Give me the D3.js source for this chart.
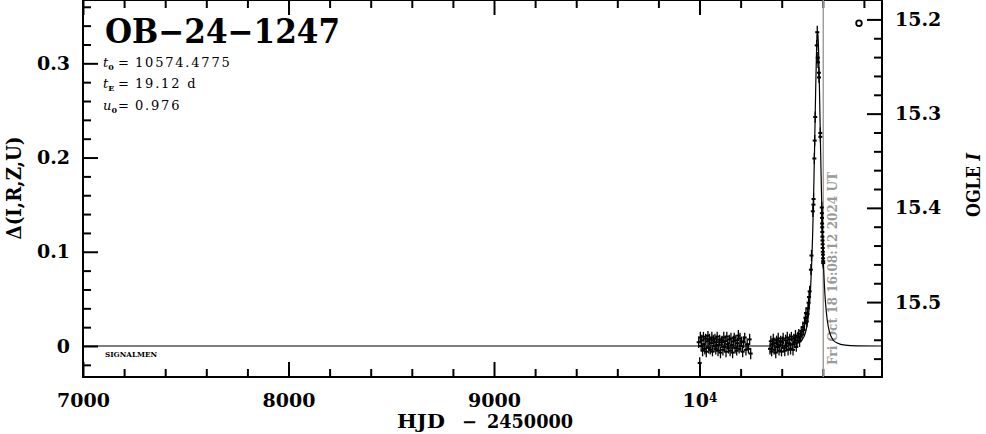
<!DOCTYPE html>
<html><head><meta charset="utf-8">
<script src="https://cdn.jsdelivr.net/npm/d3@7"></script>
<style>
html,body{margin:0;padding:0;background:#fff;}
svg{display:block;}
text{font-family:"DejaVu Serif",serif;}
</style></head><body>
<svg id="chart" width="986" height="434"></svg>
<script>
// ---------------- data ----------------
const eventName = "OB\u221224\u22121247";
const paramLines = [
  {sym: "t", sub: "0", val: "10574.4775"},
  {sym: "t", sub: "E", val: "19.12 d"},
  {sym: "u", sub: "0", val: "0.976"}
];
const baselineI = 15.5466;          // OGLE I at Δ = 0
const nowHJD = 10602.17;
const nowLabel = "Fri Oct 18 16:08:12 2024 UT";
const xMajorTicks = [7000, 8000, 9000, 10000];
const xMinorTicks = [7200, 7400, 7600, 7800, 8200, 8400, 8600, 8800, 9200, 9400, 9600, 9800, 10200, 10400, 10600, 10800];
const leftMajorTicks = [0, 0.1, 0.2, 0.3];
const leftMinorTicks = [-0.02, 0.02, 0.04, 0.06, 0.08, 0.12, 0.14, 0.16, 0.18, 0.22, 0.24, 0.26, 0.28, 0.32, 0.34, 0.36];
const rightMajorTicks = [15.2, 15.3, 15.4, 15.5];
const rightMinorTicks = [15.22, 15.24, 15.26, 15.28, 15.32, 15.34, 15.36, 15.38, 15.42, 15.44, 15.46, 15.48, 15.52, 15.54, 15.56];

// model light curve (HJD-2450000, Δmag)
const modelCurve = [
  [7000, 0], [10300, 0.0000], [10383.28, 0.0002], [10440.64, 0.0009], [10478.88, 0.0032],
  [10498.00, 0.0061], [10517.12, 0.0154], [10526.68, 0.0263], [10536.24, 0.0469],
  [10541.02, 0.0636], [10545.80, 0.0868], [10550.58, 0.1185], [10555.36, 0.1605],
  [10560.14, 0.2124], [10564.92, 0.2683], [10569.70, 0.3149], [10572.09, 0.3285],
  [10574.48, 0.3334], [10576.87, 0.3285], [10579.26, 0.3149], [10584.04, 0.2683],
  [10588.82, 0.2124], [10593.60, 0.1605], [10598.38, 0.1185], [10603.16, 0.0868],
  [10607.94, 0.0636], [10612.72, 0.0469], [10622.28, 0.0263], [10631.84, 0.0154],
  [10650.96, 0.0061], [10670.08, 0.0032], [10708.32, 0.0009], [10765.68, 0.0002],
  [10888, 0]
];

// observations [HJD-2450000, Δmag, σ]
const season2023 = [
  [9996,0.004,0.006],[10001,-0.018,0.006],[10004,0.009,0.006],[10008,0.000,0.005],[10011,0.006,0.006],
  [10015,-0.005,0.006],[10019,0.010,0.005],[10022,0.002,0.006],[10026,-0.003,0.006],[10030,0.008,0.005],
  [10033,-0.006,0.006],[10037,0.005,0.006],[10041,0.011,0.005],[10045,-0.002,0.006],[10049,0.007,0.006],
  [10052,-0.004,0.005],[10056,0.003,0.006],[10060,0.009,0.006],[10063,-0.006,0.005],[10067,0.006,0.006],
  [10071,0.000,0.006],[10075,0.008,0.005],[10079,-0.003,0.006],[10083,0.004,0.006],[10086,0.010,0.005],
  [10090,-0.005,0.006],[10094,0.001,0.006],[10098,0.007,0.005],[10102,-0.007,0.006],[10106,0.004,0.006],
  [10110,0.006,0.005],[10114,-0.004,0.006],[10118,0.009,0.006],[10121,-0.001,0.005],[10125,0.005,0.006],
  [10129,-0.006,0.006],[10133,0.010,0.005],[10137,0.002,0.006],[10141,-0.002,0.006],[10145,0.007,0.005],
  [10149,-0.005,0.006],[10153,0.008,0.006],[10157,0.001,0.005],[10161,-0.007,0.006],[10165,0.005,0.006],
  [10169,0.009,0.005],[10173,-0.002,0.006],[10177,0.006,0.006],[10181,-0.005,0.005],[10185,0.003,0.006],
  [10189,0.011,0.006],[10193,-0.003,0.005],[10197,0.008,0.006],[10201,0.000,0.006],[10205,0.005,0.005],
  [10210,-0.006,0.006],[10215,0.004,0.006],[10220,0.009,0.005],[10226,-0.004,0.006],[10232,0.002,0.006],
  [10238,-0.003,0.005],[10244,0.007,0.006],[10249,-0.008,0.006]
];
const season2024 = [
  [10343,-0.003,0.006],[10347,0.005,0.006],[10351,-0.006,0.005],[10355,0.002,0.006],[10359,0.007,0.006],
  [10363,-0.004,0.005],[10367,0.003,0.006],[10371,-0.007,0.006],[10375,0.006,0.005],[10379,-0.001,0.006],
  [10383,0.008,0.006],[10387,-0.005,0.005],[10391,0.001,0.006],[10395,0.005,0.006],[10399,-0.006,0.005],
  [10403,0.004,0.006],[10407,0.008,0.006],[10411,-0.002,0.005],[10415,-0.005,0.006],[10419,0.006,0.006],
  [10423,0.000,0.005],[10427,0.009,0.006],[10431,-0.004,0.006],[10435,0.003,0.005],[10439,0.007,0.006],
  [10443,-0.003,0.006],[10447,0.010,0.005],[10451,0.002,0.006],[10455,-0.004,0.006],[10459,0.008,0.005],
  [10463,0.004,0.006],[10467,0.011,0.006],[10471,-0.001,0.005],[10475,0.006,0.006],[10479,0.009,0.006],
  [10483,0.013,0.005],[10487,0.005,0.006],[10491,0.010,0.006],[10495,0.016,0.005],[10499,0.012,0.006],
  [10503,0.020,0.006],[10507,0.017,0.005],[10511,0.024,0.006],[10515,0.030,0.006],[10518,0.035,0.006],
  [10521.9,0.026,0.006],[10525.5,0.034,0.006],[10528,0.040,0.006],[10530.5,0.046,0.006],[10533,0.052,0.006],
  [10536,0.058,0.006],[10542,0.081,0.006],[10545,0.096,0.006],[10551.5,0.143,0.006],[10554.3,0.150,0.006],
  [10555,0.156,0.006],[10558.8,0.199,0.006],[10560.5,0.218,0.006],[10563,0.243,0.006],[10570.5,0.319,0.006],
  [10573,0.333,0.007],[10575.5,0.306,0.006],[10576.5,0.301,0.006],[10581,0.290,0.006],[10581.5,0.285,0.006],
  [10587.7,0.226,0.006],[10588.2,0.222,0.006],
  [10595.0,0.147,0.006],[10595.5,0.141,0.006],[10596.0,0.136,0.006],[10596.5,0.130,0.006],[10597.0,0.126,0.006],
  [10597.5,0.121,0.006],[10598.0,0.116,0.006],[10598.5,0.112,0.006],[10599.0,0.108,0.006],[10599.5,0.104,0.006],
  [10600.0,0.100,0.006],[10600.5,0.097,0.006],[10601.0,0.093,0.006],[10601.5,0.090,0.006],[10602.0,0.088,0.006]
];
const ogleMarker = [[10776, 15.204]];

// ---------------- layout ----------------
const L = 83, R = 882, T = 0, B = 377;
const svg = d3.select("#chart");

const x = d3.scaleLinear().domain([7000, 10888]).range([L, R]);
const y = d3.scaleLinear().domain([-0.0329, 0.3672]).range([B, T]);
const yMag = d3.scaleLinear().domain([baselineI + 0.0329, baselineI - 0.3672]).range([B, T]);

const MAJ = 15, MIN = 8;
function clean(g) {
  g.select(".domain").remove();
  g.selectAll(".tick line").attr("stroke", "#000").attr("stroke-width", 2);
  g.selectAll(".tick text").attr("fill", "#000")
    .style("font-family", '"DejaVu Serif", serif').style("font-weight", "bold").style("font-size", "19px");
}

// left axis
svg.append("g").attr("transform", `translate(${L},0)`)
  .call(d3.axisLeft(y).tickValues(leftMinorTicks).tickSize(-MIN).tickSizeOuter(0).tickFormat(""))
  .call(clean);
svg.append("g").attr("transform", `translate(${L},0)`)
  .call(d3.axisLeft(y).tickValues(leftMajorTicks).tickSize(-MAJ).tickSizeOuter(0).tickPadding(13)
    .tickFormat(d => d === 0 ? "0" : d3.format(".1f")(d)))
  .call(clean);

// right axis (OGLE I)
svg.append("g").attr("transform", `translate(${R},0)`)
  .call(d3.axisRight(yMag).tickValues(rightMinorTicks).tickSize(-MIN).tickSizeOuter(0).tickFormat(""))
  .call(clean);
svg.append("g").attr("transform", `translate(${R},0)`)
  .call(d3.axisRight(yMag).tickValues(rightMajorTicks).tickSize(-MAJ).tickSizeOuter(0).tickPadding(13)
    .tickFormat(d3.format(".1f")))
  .call(clean);

// bottom axis
svg.append("g").attr("transform", `translate(0,${B})`)
  .call(d3.axisBottom(x).tickValues(xMinorTicks).tickSize(-MIN).tickSizeOuter(0).tickFormat(""))
  .call(clean);
const gx = svg.append("g").attr("transform", `translate(0,${B})`)
  .call(d3.axisBottom(x).tickValues(xMajorTicks).tickSize(-MAJ).tickSizeOuter(0).tickPadding(17)
    .tickFormat(d => d === 10000 ? "10" : String(d)))
  .call(clean);
gx.selectAll(".tick text").filter(d => d === 10000)
  .append("tspan").attr("dy", "-0.45em").style("font-size", "12px").text("4");

// top axis
svg.append("g").attr("transform", `translate(0,${T})`)
  .call(d3.axisTop(x).tickValues(xMinorTicks).tickSize(-MIN).tickSizeOuter(0).tickFormat(""))
  .call(clean);
svg.append("g").attr("transform", `translate(0,${T})`)
  .call(d3.axisTop(x).tickValues(xMajorTicks).tickSize(-MAJ).tickSizeOuter(0).tickFormat(""))
  .call(clean);

// frame
svg.append("rect").attr("x", L).attr("y", T).attr("width", R - L).attr("height", B - T)
  .attr("fill", "none").attr("stroke", "#000").attr("stroke-width", 2);

// "now" line
const plot = svg.append("g");
plot.append("line").attr("x1", x(nowHJD)).attr("x2", x(nowHJD)).attr("y1", T).attr("y2", B)
  .attr("stroke", "#9a9a9a").attr("stroke-width", 1.4);
plot.append("text").attr("transform", `translate(${x(nowHJD) + 14},${B - 12}) rotate(-90)`)
  .attr("fill", "#9a9a9a").style("font-weight", "bold").style("font-size", "13px")
  .attr("textLength", 193).attr("lengthAdjust", "spacingAndGlyphs").text(nowLabel);

// model
plot.append("path").datum(modelCurve)
  .attr("d", d3.line().x(d => x(d[0])).y(d => y(d[1])).curve(d3.curveMonotoneX))
  .attr("fill", "none").attr("stroke", "#000").attr("stroke-width", 1.2);

// observations
const obs = season2023.concat(season2024);
const pts = plot.append("g").selectAll("g").data(obs).join("g");
pts.append("line").attr("x1", d => x(d[0])).attr("x2", d => x(d[0]))
  .attr("y1", d => y(d[1] - d[2])).attr("y2", d => y(d[1] + d[2]))
  .attr("stroke", "#000").attr("stroke-width", 1.3);
pts.append("rect").attr("x", d => x(d[0]) - 2).attr("y", d => y(d[1]) - 1)
  .attr("width", 4).attr("height", 2).attr("fill", "#000");

// OGLE marker
plot.selectAll("circle.ogle").data(ogleMarker).join("circle").attr("class", "ogle")
  .attr("cx", d => x(d[0])).attr("cy", d => yMag(d[1])).attr("r", 2.8)
  .attr("fill", "none").attr("stroke", "#000").attr("stroke-width", 1.8);

// title + params
svg.append("text").attr("x", 105).attr("y", 43)
  .style("font-weight", "bold").style("font-size", "33px")
  .attr("textLength", 235).attr("lengthAdjust", "spacingAndGlyphs").text(eventName);

const pl = svg.append("g").selectAll("text").data(paramLines).join("text")
  .attr("x", 103).attr("y", (d, i) => [67, 88, 110][i])
  .style("font-size", "13px");
pl.append("tspan").style("font-style", "italic").text(d => d.sym);
pl.append("tspan").attr("dy", 3).style("font-size", "8px").style("font-weight", "bold").text(d => d.sub);
pl.append("tspan").attr("dy", -3).attr("x", 118).text("=");
pl.append("tspan").attr("x", 135).style("letter-spacing", "1.8px").text(d => d.val);

svg.append("text").attr("x", 105).attr("y", 357)
  .style("font-weight", "bold").style("font-size", "8px")
  .attr("textLength", 52).attr("lengthAdjust", "spacingAndGlyphs").text("SIGNALMEN");

// axis titles
const xt = svg.append("text").attr("y", 428).style("font-weight", "bold").style("font-size", "18px");
xt.append("tspan").attr("x", 397).attr("textLength", 48).attr("lengthAdjust", "spacingAndGlyphs").text("HJD");
xt.append("tspan").attr("x", 462).text("\u2212");
xt.append("tspan").attr("x", 487).attr("textLength", 86).attr("lengthAdjust", "spacingAndGlyphs").text("2450000");

svg.append("text").attr("transform", "translate(21,188) rotate(-90)")
  .attr("text-anchor", "middle").style("font-weight", "bold").style("font-size", "20px")
  .attr("textLength", 103).attr("lengthAdjust", "spacingAndGlyphs").text("\u0394(I,R,Z,U)");

const rt = svg.append("text").attr("transform", "translate(980,185) rotate(-90)")
  .attr("text-anchor", "middle").style("font-weight", "bold").style("font-size", "19px")
  .attr("textLength", 64).attr("lengthAdjust", "spacingAndGlyphs");
rt.append("tspan").text("OGLE ");
rt.append("tspan").style("font-style", "italic").text("I");
</script>
</body></html>
